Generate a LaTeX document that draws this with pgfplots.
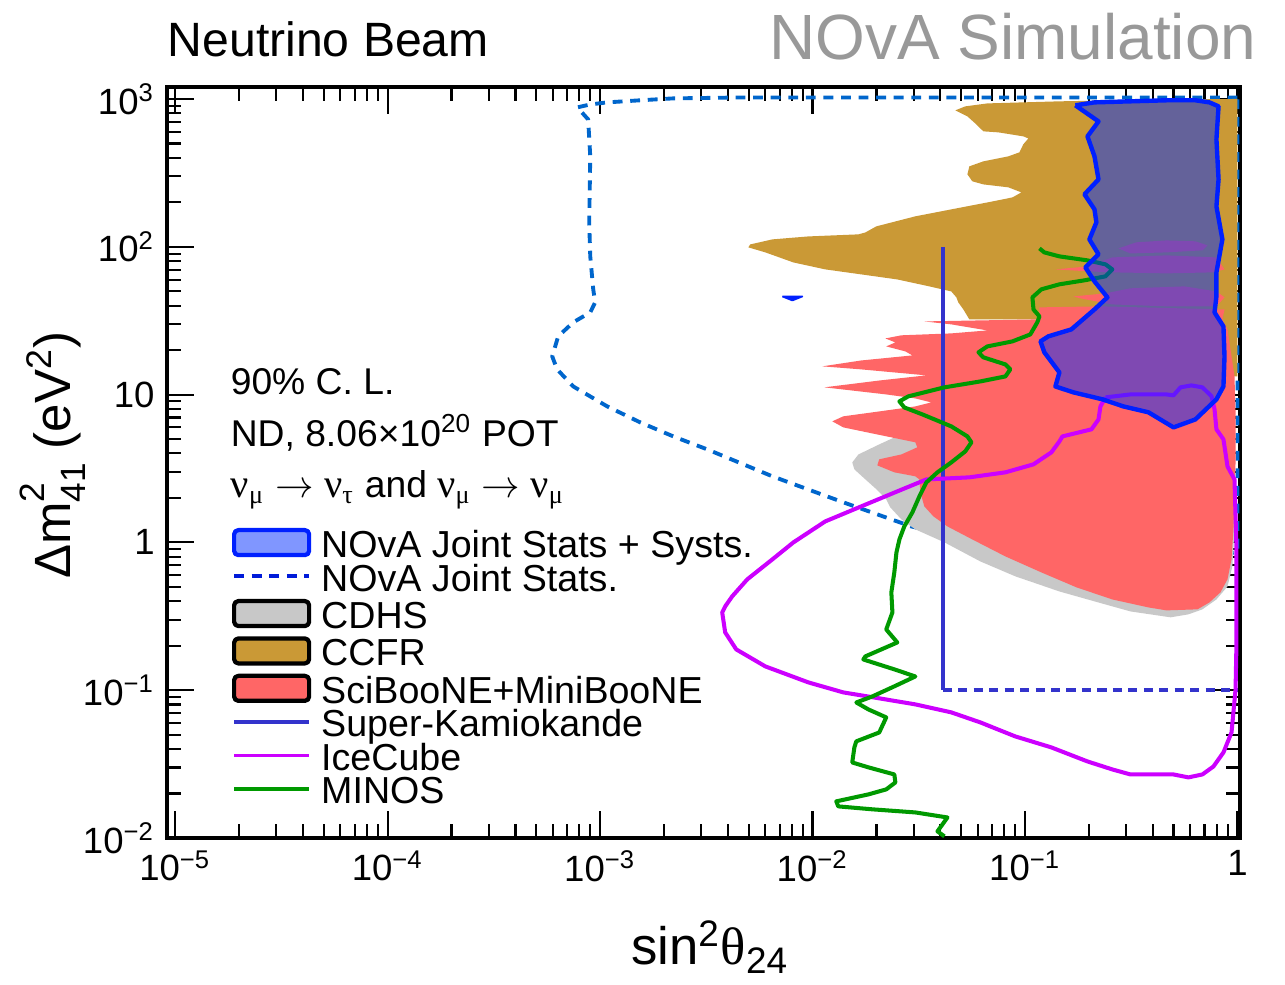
\documentclass[border=0pt]{standalone}
\usepackage{pgfplots}
\pgfplotsset{compat=1.18}
\usepackage{fontspec}
\setmainfont{Liberation Sans}
\newfontfamily\grk{Liberation Serif}

\definecolor{ccfr}{RGB}{202,153,54}
\definecolor{sbmb}{RGB}{255,102,102}
\definecolor{cdhs}{RGB}{200,200,200}
\definecolor{novaline}{RGB}{0,32,255}
\definecolor{novafill}{RGB}{0,45,255}
\definecolor{novadash}{RGB}{0,102,204}
\definecolor{superk}{RGB}{51,51,204}
\definecolor{icecube}{RGB}{204,0,255}
\definecolor{minos}{RGB}{0,153,0}
\definecolor{simgray}{RGB}{153,153,153}

\newcommand{\pw}[1]{10\textsuperscript{#1}}

\begin{document}
\begin{tikzpicture}
\useasboundingbox (0,0) rectangle (12.85cm,9.84cm);
% all coordinates are log10(sin^2 theta_24) and log10(dm^2_41 / eV^2)
\begin{axis}[
  at={(1.67cm,1.46cm)}, anchor=south west,
  scale only axis, width=10.73cm, height=7.51cm,
  xmin=-5.038, xmax=0.012, ymin=-2, ymax=3.081,
  xtick={-5,-4,-3,-2,-1,0},
  xticklabels={\pw{−5},\pw{−4},\pw{−3},\pw{−2},\pw{−1},1},
  ytick={-2,-1,0,1,2,3},
  yticklabels={\pw{−2},\pw{−1},1,10,\pw{2},\pw{3}},
  minor xtick={-4.699,-4.523,-4.398,-4.301,-4.222,-4.155,-4.097,-4.046,
               -3.699,-3.523,-3.398,-3.301,-3.222,-3.155,-3.097,-3.046,
               -2.699,-2.523,-2.398,-2.301,-2.222,-2.155,-2.097,-2.046,
               -1.699,-1.523,-1.398,-1.301,-1.222,-1.155,-1.097,-1.046,
               -0.699,-0.523,-0.398,-0.301,-0.222,-0.155,-0.097,-0.046},
  minor ytick={-1.699,-1.523,-1.398,-1.301,-1.222,-1.155,-1.097,-1.046,
               -0.699,-0.523,-0.398,-0.301,-0.222,-0.155,-0.097,-0.046,
               0.301,0.477,0.602,0.699,0.778,0.845,0.903,0.954,
               1.301,1.477,1.602,1.699,1.778,1.845,1.903,1.954,
               2.301,2.477,2.602,2.699,2.778,2.845,2.903,2.954},
  tick align=inside,
  major tick length=0.27cm, minor tick length=0.14cm,
  axis line style={line width=1pt},
  every tick/.style={black, line width=0.6pt},
  tick label style={font=\fontsize{10.4}{12}\selectfont},
  xlabel={sin\textsuperscript{2}{\grk θ}\textsubscript{24}},
  ylabel={Δm\rlap{\raisebox{0.5em}{\fontsize{10}{10}\selectfont 2}}\raisebox{-0.3em}{\fontsize{10}{10}\selectfont 41} (eV\textsuperscript{2})},
  xlabel style={at={(axis description cs:0.506,-0.169)}, anchor=base, font=\fontsize{15}{18}\selectfont},
  ylabel style={at={(axis description cs:-0.0904,0.51)}, anchor=base, font=\fontsize{14.5}{17}\selectfont},
  every axis plot/.append style={line join=round},
  legend cell align=left,
  legend style={
    at={(axis description cs:0.0606,0.4128)}, anchor=north west,
    draw=none, fill=none, inner sep=0pt, outer sep=0pt, row sep=0pt,
    font=\fontsize{10.7}{12}\selectfont,
    nodes={inner sep=0pt, text height=7.3pt, text depth=2.25pt},
    /tikz/every odd column/.append style={column sep=0.1cm},
  },
]

% NOvA joint fit, statistics only
\addplot[forget plot, novadash, line width=1.1pt, dash pattern=on 2.8pt off 2.2pt] table {
0      3.010
-2.340 3.010
-2.655 3.004
-2.811 2.991
-2.966 2.977
-3.046 2.963
-3.107 2.943
-3.056 2.862
-3.046 2.612
-3.051 2.165
-3.046 1.935
-3.032 1.712
-3.023 1.624
-3.046 1.556
-3.126 1.489
-3.197 1.394
-3.225 1.258
-3.202 1.171
-3.126 1.055
-2.966 0.920
-2.811 0.812
-2.655 0.717
-2.495 0.629
-2.189 0.447
-1.855 0.271
-1.535 0.108
-1.116 -0.034
-0.645 -0.088
-0.174 -0.088
0      -0.068
0      3.010
};

% CDHS
\addplot[forget plot, fill=cdhs, draw=none] table {
-1.615 0.710
-1.686 0.663
-1.784 0.595
-1.813 0.541
-1.803 0.494
-1.751 0.426
-1.699 0.359
-1.653 0.291
-1.634 0.237
-1.582 0.156
-1.516 0.088
-1.379 0.000
-1.210 -0.129
-1.045 -0.230
-0.838 -0.332
-0.673 -0.399
-0.504 -0.467
-0.315 -0.507
-0.231 -0.487
-0.165 -0.453
-0.099 -0.386
-0.047 -0.298
-0.024 -0.162
-0.014 0.088
-0.014 0.697
-1.116 0.710
};

% CCFR
\addplot[forget plot, fill=ccfr, draw=none] table {
-1.328 2.923
-1.281 2.950
-1.177 2.970
-0.838 2.984
-0.334 2.997
0      3.000
0      1.123
-0.104 1.123
-0.104 1.509
-1.262 1.509
-1.290 1.576
-1.314 1.624
-1.323 1.658
-1.347 1.698
-1.450 1.732
-1.601 1.779
-1.770 1.813
-1.940 1.847
-2.090 1.894
-2.222 1.962
-2.302 1.996
-2.293 2.016
-2.189 2.050
-2.020 2.070
-1.784 2.084
-1.751 2.097
-1.700 2.138
-1.516 2.206
-1.347 2.253
-1.177 2.300
-1.059 2.334
-1.017 2.368
-1.078 2.402
-1.196 2.422
-1.248 2.443
-1.271 2.490
-1.262 2.544
-1.196 2.578
-1.078 2.612
-1.026 2.639
-1.008 2.693
-0.984 2.733
-1.008 2.747
-1.125 2.774
-1.196 2.781
-1.229 2.828
-1.271 2.882
};

% SciBooNE+MiniBooNE
\addplot[forget plot, fill=sbmb, draw=none] table {
-1.474 1.495
-1.347 1.475
-1.177 1.434
-1.347 1.414
-1.582 1.401
-1.657 1.380
-1.610 1.353
-1.653 1.326
-1.563 1.292
-1.530 1.265
-1.770 1.231
-1.954 1.191
-1.775 1.171
-1.464 1.130
-1.681 1.096
-1.944 1.049
-1.653 1.001
-1.516 0.974
-1.441 0.947
-1.516 0.920
-1.686 0.886
-1.855 0.853
-1.907 0.819
-1.855 0.778
-1.718 0.737
-1.516 0.677
-1.507 0.643
-1.582 0.595
-1.686 0.562
-1.695 0.521
-1.615 0.474
-1.516 0.447
-1.497 0.426
-1.492 0.338
-1.474 0.244
-1.431 0.176
-1.365 0.108
-1.248 0.020
-1.092 -0.095
-0.923 -0.203
-0.758 -0.304
-0.589 -0.386
-0.419 -0.440
-0.334 -0.460
-0.188 -0.453
-0.132 -0.406
-0.080 -0.338
-0.047 -0.250
-0.028 -0.115
-0.019 0.088
-0.014 0.311
-0.009 0.541
-0.009 0.880
-0.014 1.123
-0.047 1.441
-0.071 1.509
-0.061 1.576
-0.645 1.597
-0.932 1.590
-0.932 1.509
};
\addplot[forget plot, fill=sbmb, draw=none] table {
-0.560 1.989
-0.476 2.030
-0.334 2.043
-0.198 2.037
-0.141 2.009
-0.165 1.976
-0.334 1.962
-0.504 1.955
};
\addplot[forget plot, fill=sbmb, draw=none] table {
-0.857 1.847
-0.706 1.867
-0.589 1.928
-0.334 1.942
-0.099 1.928
-0.061 1.847
-0.113 1.827
-0.334 1.820
-0.589 1.827
-0.706 1.834
};
\addplot[forget plot, fill=sbmb, draw=none] table {
-0.772 1.664
-0.621 1.685
-0.504 1.719
-0.250 1.732
-0.099 1.698
-0.061 1.658
-0.099 1.597
-0.334 1.597
-0.589 1.610
-0.739 1.651
};

% Super-Kamiokande
\addplot[forget plot, superk, line width=1pt] table {
-1.387 2.000
-1.387 -1.000
};
\addplot[forget plot, superk, line width=1pt, dash pattern=on 2.6pt off 1.8pt] table {
-1.387 -1.000
0      -1.000
};

% IceCube
\addplot[forget plot, icecube, line width=1.15pt] table {
-0.621 0.981
-0.504 1.001
-0.334 1.001
-0.301 0.995
-0.268 1.049
-0.217 1.062
-0.165 1.049
-0.122 0.988
-0.108 0.900
-0.099 0.765
-0.066 0.697
-0.047 0.514
-0.014 0.426
-0.005 -0.027
-0.005 -0.704
-0.009 -0.995
-0.028 -1.286
-0.066 -1.421
-0.113 -1.516
-0.165 -1.570
-0.231 -1.590
-0.301 -1.570
-0.367 -1.570
-0.504 -1.570
-0.589 -1.536
-0.706 -1.482
-0.876 -1.387
-1.045 -1.313
-1.210 -1.218
-1.347 -1.150
-1.516 -1.096
-1.686 -1.055
-1.855 -1.015
-2.020 -0.947
-2.222 -0.839
-2.359 -0.724
-2.411 -0.609
-2.425 -0.474
-2.411 -0.433
-2.378 -0.365
-2.307 -0.250
-2.189 -0.115
-2.090 0.000
-1.940 0.142
-1.770 0.244
-1.601 0.345
-1.464 0.426
-1.262 0.440
-1.092 0.474
-0.960 0.528
-0.876 0.609
-0.838 0.683
-0.824 0.717
-0.687 0.765
-0.654 0.832
-0.645 0.920
-0.621 0.981
};

% MINOS
\addplot[forget plot, minos, line width=1.15pt] table {
-0.932 1.989
-0.909 1.962
-0.838 1.935
-0.706 1.908
-0.621 1.881
-0.589 1.847
-0.621 1.800
-0.720 1.773
-0.838 1.746
-0.923 1.712
-0.965 1.658
-0.960 1.576
-0.932 1.529
-0.942 1.489
-0.975 1.407
-1.059 1.360
-1.177 1.326
-1.219 1.286
-1.196 1.252
-1.092 1.204
-1.069 1.171
-1.092 1.123
-1.210 1.089
-1.379 1.049
-1.549 0.988
-1.591 0.954
-1.568 0.913
-1.483 0.866
-1.347 0.785
-1.271 0.717
-1.252 0.677
-1.281 0.616
-1.347 0.541
-1.412 0.474
-1.464 0.406
-1.497 0.311
-1.530 0.203
-1.568 0.108
-1.591 0.020
-1.605 -0.068
-1.615 -0.203
-1.629 -0.338
-1.624 -0.474
-1.653 -0.589
-1.601 -0.677
-1.751 -0.771
-1.761 -0.792
-1.615 -0.859
-1.516 -0.907
-1.615 -0.974
-1.718 -1.042
-1.794 -1.083
-1.737 -1.130
-1.653 -1.184
-1.686 -1.286
-1.794 -1.346
-1.803 -1.387
-1.813 -1.489
-1.737 -1.522
-1.615 -1.570
-1.610 -1.624
-1.653 -1.671
-1.737 -1.705
-1.888 -1.752
-1.879 -1.786
-1.718 -1.806
-1.516 -1.827
-1.365 -1.861
-1.412 -1.955
-1.379 -1.989
};

% NOvA joint fit, statistics + systematics
\addplot[forget plot, fill=novafill, fill opacity=0.5, draw=novaline, draw opacity=1, line width=1.25pt] table {
-0.763 2.957
-0.673 2.977
-0.504 2.984
-0.334 2.991
-0.198 2.991
-0.132 2.977
-0.089 2.950
-0.099 2.727
-0.089 2.456
-0.099 2.273
-0.071 2.050
-0.099 1.827
-0.099 1.664
-0.108 1.556
-0.066 1.461
-0.061 1.258
-0.066 1.055
-0.099 0.968
-0.198 0.832
-0.301 0.778
-0.419 0.880
-0.537 0.920
-0.636 0.968
-0.772 1.015
-0.857 1.055
-0.838 1.150
-0.909 1.286
-0.927 1.360
-0.890 1.394
-0.782 1.441
-0.673 1.576
-0.612 1.658
-0.673 1.766
-0.716 1.861
-0.654 1.949
-0.697 2.050
-0.664 2.165
-0.673 2.253
-0.720 2.355
-0.654 2.456
-0.673 2.612
-0.706 2.747
-0.654 2.848
-0.763 2.957
};
\addplot[forget plot, fill=novaline, draw=novaline, line width=0.5pt] table {
-2.142 1.664
-2.048 1.664
-2.095 1.637
-2.142 1.664
};

% annotations
\node[anchor=base west, inner sep=0pt, font=\fontsize{10.6}{12}\selectfont] at (axis cs:-4.741,1.002) {90\% C. L.};
\node[anchor=base west, inner sep=0pt, font=\fontsize{10.6}{12}\selectfont] at (axis cs:-4.741,0.650) {ND, 8.06×10\textsuperscript{20} POT};
\node[anchor=base west, inner sep=0pt, font=\fontsize{10.6}{12}\selectfont] at (axis cs:-4.741,0.305)
  {{\grk\fontsize{11.5}{12}\selectfont ν}\textsubscript{\grk μ} $\rightarrow$ {\grk\fontsize{11.5}{12}\selectfont ν}\textsubscript{\grk τ} and {\grk\fontsize{11.5}{12}\selectfont ν}\textsubscript{\grk μ} $\rightarrow$ {\grk\fontsize{11.5}{12}\selectfont ν}\textsubscript{\grk μ}};

% legend
\addlegendimage{legend image code/.code={\draw[fill=novafill!50!white, draw=novaline, line width=1.2pt, rounded corners=1.2pt] (0cm,-0.065cm) rectangle (0.75cm,0.185cm);}}
\addlegendentry{NOvA Joint Stats + Systs.}
\addlegendimage{legend image code/.code={\draw[novaline!85!black, line width=1.1pt, dash pattern=on 2.8pt off 2.2pt] (0cm,0.06cm) -- (0.75cm,0.06cm);}}
\addlegendentry{NOvA Joint Stats.}
\addlegendimage{legend image code/.code={\draw[fill=cdhs, draw=black, line width=1.2pt, rounded corners=1.2pt] (0cm,-0.065cm) rectangle (0.75cm,0.185cm);}}
\addlegendentry{CDHS}
\addlegendimage{legend image code/.code={\draw[fill=ccfr, draw=black, line width=1.2pt, rounded corners=1.2pt] (0cm,-0.065cm) rectangle (0.75cm,0.185cm);}}
\addlegendentry{CCFR}
\addlegendimage{legend image code/.code={\draw[fill=sbmb, draw=black, line width=1.2pt, rounded corners=1.2pt] (0cm,-0.065cm) rectangle (0.75cm,0.185cm);}}
\addlegendentry{SciBooNE+MiniBooNE}
\addlegendimage{legend image code/.code={\draw[superk, line width=1pt] (0cm,0.06cm) -- (0.75cm,0.06cm);}}
\addlegendentry{Super-Kamiokande}
\addlegendimage{legend image code/.code={\draw[icecube, line width=1.1pt] (0cm,0.06cm) -- (0.75cm,0.06cm);}}
\addlegendentry{IceCube}
\addlegendimage{legend image code/.code={\draw[minos, line width=1.1pt] (0cm,0.06cm) -- (0.75cm,0.06cm);}}
\addlegendentry{MINOS}
\end{axis}

\node[anchor=base west, inner sep=0pt, font=\fontsize{13.7}{16}\selectfont] at (1.67cm,9.27cm) {Neutrino Beam};
\node[anchor=base east, inner sep=0pt, font=\fontsize{18.2}{21}\selectfont, text=simgray] at (12.57cm,9.24cm) {NOvA Simulation};
\end{tikzpicture}
\end{document}
